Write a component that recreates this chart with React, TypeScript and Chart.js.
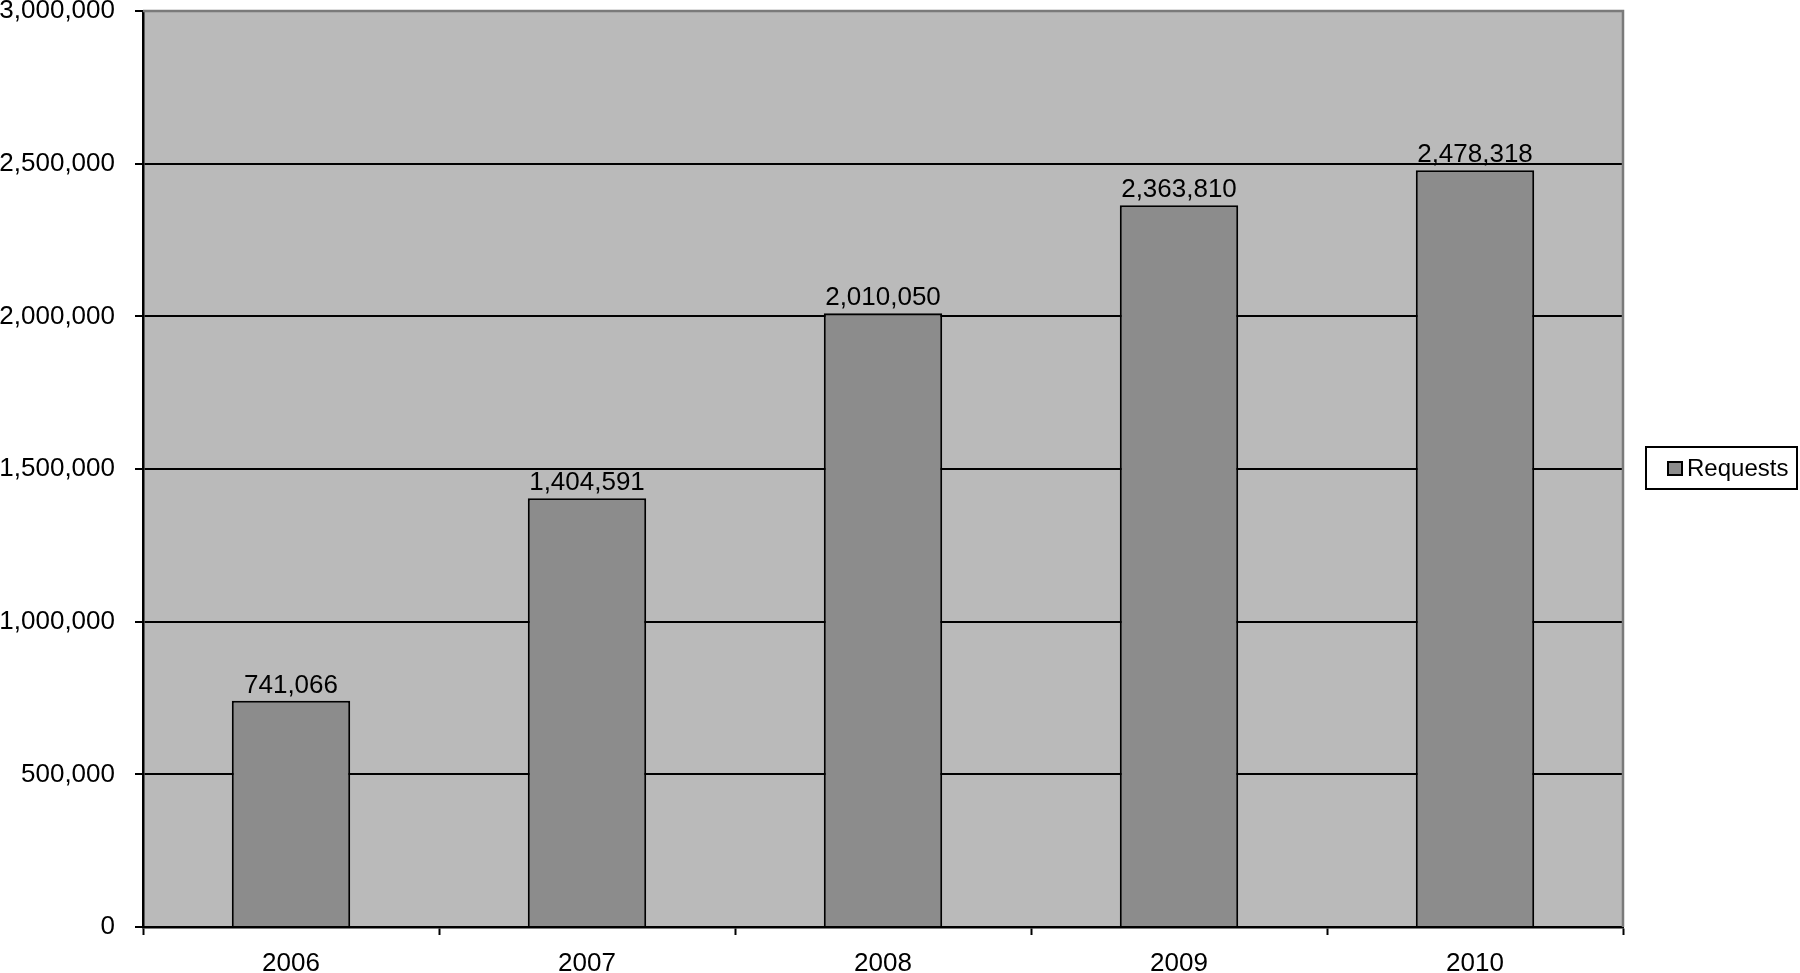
import React, { useEffect, useRef } from "react";
import { Chart, registerables } from "chart.js";

Chart.register(...registerables);

const categories = ["2006", "2007", "2008", "2009", "2010"];
const requests = [741066, 1404591, 2010050, 2363810, 2478318];
const seriesName = "Requests";
const yMax = 3000000;
const yStep = 500000;

const FONT = '"Liberation Sans", Arial, sans-serif';
const fmt = (v: number) => v.toLocaleString("en-US");

const bgPlugin = {
  id: "plotBg",
  beforeDraw(chart: any) {
    const { ctx, chartArea: a } = chart;
    ctx.save();
    ctx.fillStyle = "#bababa";
    ctx.fillRect(a.left, a.top, a.right - a.left, a.bottom - a.top);
    ctx.restore();
  },
  afterDatasetsDraw(chart: any) {
    const { ctx, chartArea: a } = chart;
    ctx.save();
    ctx.strokeStyle = "#7a7a7a";
    ctx.lineWidth = 2.5;
    ctx.beginPath();
    ctx.moveTo(a.left, a.top);
    ctx.lineTo(a.right, a.top);
    ctx.lineTo(a.right, a.bottom);
    ctx.stroke();
    const meta = chart.getDatasetMeta(0);
    const data = chart.data.datasets[0].data as number[];
    ctx.fillStyle = "#000";
    ctx.font = `26px ${FONT}`;
    ctx.textAlign = "center";
    ctx.textBaseline = "alphabetic";
    meta.data.forEach((el: any, i: number) => {
      ctx.fillText(fmt(data[i]), el.x, el.y - 8);
    });
    ctx.restore();
  },
  afterDraw(chart: any) {
    const { ctx } = chart;
    const x0 = 1646, y0 = 447, w = 151, h = 42;
    ctx.save();
    ctx.fillStyle = "#fff";
    ctx.fillRect(x0, y0, w, h);
    ctx.strokeStyle = "#000";
    ctx.lineWidth = 2;
    ctx.strokeRect(x0, y0, w, h);
    ctx.fillStyle = "#8c8c8c";
    ctx.fillRect(1668, 462, 14, 13);
    ctx.strokeRect(1668, 462, 14, 13);
    ctx.fillStyle = "#000";
    ctx.font = `24px ${FONT}`;
    ctx.textAlign = "left";
    ctx.textBaseline = "middle";
    ctx.fillText(chart.data.datasets[0].label, 1687, 469);
    ctx.restore();
  },
};

export default function App() {
  const ref = useRef<HTMLCanvasElement>(null);
  useEffect(() => {
    document.body.style.margin = "0";
    const chart = new Chart(ref.current!, {
      type: "bar",
      data: {
        labels: categories,
        datasets: [
          {
            label: seriesName,
            data: requests,
            backgroundColor: "#8c8c8c",
            borderColor: "#000",
            borderWidth: 2,
            barPercentage: 0.4,
            categoryPercentage: 1,
          },
        ],
      },
      options: {
        responsive: false,
        animation: false,
        devicePixelRatio: 1,
        layout: { padding: { top: 11, right: 177, left: 0, bottom: 0 } },
        plugins: { legend: { display: false }, tooltip: { enabled: false } },
        scales: {
          x: {
            grid: {
              drawOnChartArea: false,
              tickLength: 8,
              tickColor: "#000",
              tickWidth: 2,
              offset: true,
            },
            border: { color: "#000", width: 2.5 },
            ticks: { color: "#000", font: { family: FONT, size: 26 }, padding: 13 },
            afterFit: (s: any) => {
              s.height = 46;
              s.paddingLeft = 0;
              s.paddingRight = 0;
            },
          },
          y: {
            min: 0,
            max: yMax,
            grid: {
              color: (c: any) => (c.tick && c.tick.value === yMax ? "rgba(0,0,0,0)" : "#000"),
              lineWidth: 2,
              tickLength: 8,
              tickColor: "#000",
              tickWidth: 2,
            },
            border: { color: "#000", width: 2.5 },
            ticks: {
              stepSize: yStep,
              color: "#000",
              font: { family: FONT, size: 26 },
              padding: 20,
              callback: (v: any) => fmt(Number(v)),
            },
            afterFit: (s: any) => {
              s.width = 143;
              s.paddingTop = 0;
              s.paddingBottom = 0;
            },
          },
        },
      },
      plugins: [bgPlugin],
    });
    return () => chart.destroy();
  }, []);
  return <canvas ref={ref} width={1800} height={973} style={{ display: "block" }} />;
}
